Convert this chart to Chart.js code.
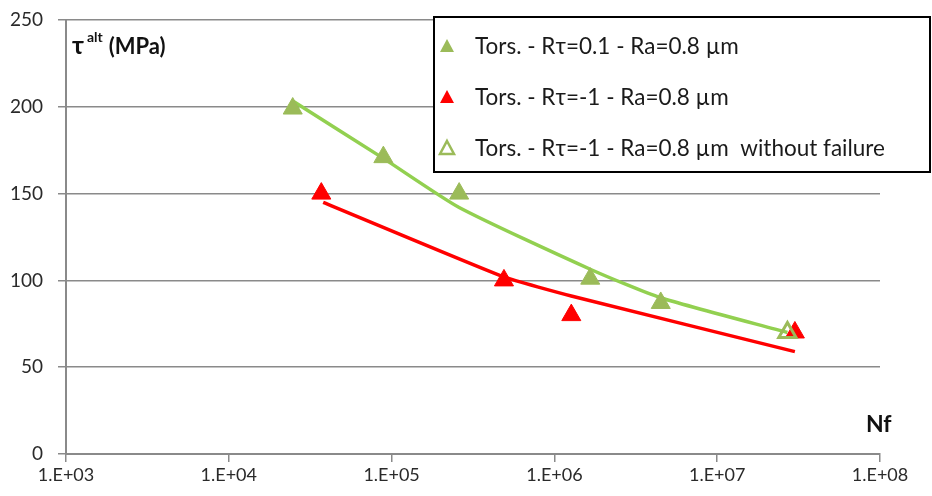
<!DOCTYPE html>
<html>
<head>
<meta charset="utf-8">
<script src="https://cdn.jsdelivr.net/npm/chart.js@4"></script>
<style>
  html, body { margin: 0; padding: 0; background: #fff; }
  #wrap { position: relative; width: 932px; height: 496px; }
</style>
</head>
<body>
<div id="wrap"><canvas id="c" width="932" height="496"></canvas></div>
<script>
// S-N torsion data (Nf, tau_alt MPa)
var greenPtsX = [2.47e4, 8.9e4, 2.6e5, 1.66e6, 4.5e6];
var greenPtsY = [199, 171, 150, 101, 87];
var redPtsX = [3.7e4, 4.9e5, 1.27e6, 3.0e7];
var redPtsY = [150, 100, 80, 70];
var openPtsX = [2.7e7];
var openPtsY = [70];

// fitted curves
var greenFitX = [2.5e4, 9e4, 2.6e5, 1.7e6, 4.5e6, 2.7e7];
var greenFitY = [203, 170, 142, 106, 90, 70];
var redFitX = [3.8e4, 4.9e5, 1.27e6, 3.0e7];
var redFitY = [145, 102, 91, 59];

var xTicks = [1e3, 1e4, 1e5, 1e6, 1e7, 1e8];
var xTickLabels = ['1.E+03', '1.E+04', '1.E+05', '1.E+06', '1.E+07', '1.E+08'];
var yTicks = [0, 50, 100, 150, 200, 250];

var legendLabels = [
  'Tors. - R\u03c4=0.1 - Ra=0.8 \u00b5m',
  'Tors. - R\u03c4=-1 - Ra=0.8 \u00b5m',
  'Tors. - R\u03c4=-1 - Ra=0.8 \u00b5m  without failure'
];

var GREEN_LINE = '#92d050';
var GREEN_MARK = '#9bbb59';
var RED = '#ff0000';
var FONT = 'Lato, "Open Sans", "Noto Sans", sans-serif';

function pts(xs, ys) {
  var out = [];
  for (var i = 0; i < xs.length; i++) out.push({ x: xs[i], y: ys[i] });
  return out;
}

// legend box + axis titles
var decorPlugin = {
  id: 'decor',
  afterDraw: function (chart) {
    var ctx = chart.ctx;
    ctx.save();
    // axis titles
    ctx.fillStyle = '#111';
    ctx.textBaseline = 'alphabetic';
    var x = 72;
    ctx.font = 'bold 25px ' + FONT;
    ctx.fillText('\u03c4', x, 54);
    x += ctx.measureText('\u03c4').width + 3;
    ctx.font = 'bold 14px ' + FONT;
    ctx.fillText('alt', x, 42);
    x += ctx.measureText('alt').width + 6;
    ctx.font = 'bold 22px ' + FONT;
    ctx.fillText('(MPa)', x, 54);
    ctx.font = 'bold 23px ' + FONT;
    ctx.fillText('Nf', 866, 432);

    // legend
    var bx = 434, by = 17, bw = 496, bh = 155;
    ctx.fillStyle = '#fff';
    ctx.fillRect(bx, by, bw, bh);
    ctx.strokeStyle = '#000';
    ctx.lineWidth = 2;
    ctx.strokeRect(bx, by, bw, bh);
    var rows = [46, 97, 148];
    var styles = [
      { fill: GREEN_MARK, stroke: GREEN_MARK, open: false },
      { fill: RED, stroke: RED, open: false },
      { fill: '#fff', stroke: GREEN_MARK, open: true }
    ];
    for (var i = 0; i < rows.length; i++) {
      var cx = 447, cy = rows[i];
      ctx.beginPath();
      ctx.moveTo(cx, cy - 7);
      ctx.lineTo(cx + 7, cy + 6);
      ctx.lineTo(cx - 7, cy + 6);
      ctx.closePath();
      ctx.fillStyle = styles[i].fill;
      ctx.fill();
      if (styles[i].open) {
        ctx.strokeStyle = styles[i].stroke;
        ctx.lineWidth = 2.5;
        ctx.stroke();
      }
      ctx.fillStyle = '#1a1a1a';
      ctx.font = '22.5px ' + FONT;
      ctx.textBaseline = 'middle';
      ctx.fillText(legendLabels[i], 475, cy + 1);
    }
    ctx.restore();
  }
};

new Chart(document.getElementById('c'), {
  type: 'line',
  data: {
    datasets: [
      {
        label: 'fit green',
        data: pts(greenFitX, greenFitY),
        borderColor: GREEN_LINE,
        borderWidth: 3.5,
        pointRadius: 0,
        tension: 0.2,
        order: 5
      },
      {
        label: 'fit red',
        data: pts(redFitX, redFitY),
        borderColor: RED,
        borderWidth: 3.5,
        pointRadius: 0,
        tension: 0.15,
        order: 4
      },
      {
        label: legendLabels[1],
        data: pts(redPtsX, redPtsY),
        showLine: false,
        pointStyle: 'triangle',
        pointRadius: 11,
        backgroundColor: RED,
        borderColor: RED,
        borderWidth: 1,
        order: 3
      },
      {
        label: legendLabels[0],
        data: pts(greenPtsX, greenPtsY),
        showLine: false,
        pointStyle: 'triangle',
        pointRadius: 11,
        backgroundColor: GREEN_MARK,
        borderColor: GREEN_MARK,
        borderWidth: 1,
        order: 2
      },
      {
        label: legendLabels[2],
        data: pts(openPtsX, openPtsY),
        showLine: false,
        pointStyle: 'triangle',
        pointRadius: 10,
        backgroundColor: 'rgba(255,255,255,0)',
        borderColor: GREEN_MARK,
        borderWidth: 3,
        order: 1
      }
    ]
  },
  options: {
    animation: false,
    responsive: false,
    parsing: false,
    layout: { padding: { top: 20, right: 52, left: 0, bottom: 0 } },
    scales: {
      x: {
        type: 'logarithmic',
        min: 1e3,
        max: 1e8,
        afterBuildTicks: function (s) {
          s.ticks = xTicks.map(function (v) { return { value: v }; });
        },
        afterFit: function (s) { s.height = 42; s.paddingLeft = 0; s.paddingRight = 0; },
        ticks: {
          autoSkip: false,
          maxRotation: 0,
          color: '#2a2a2a',
          font: { family: FONT, size: 18 },
          padding: 2,
          callback: function (v) {
            var i = xTicks.indexOf(v);
            return i >= 0 ? xTickLabels[i] : '';
          }
        },
        grid: { drawOnChartArea: false, drawTicks: true, tickLength: 8, color: '#8a8a8a', lineWidth: 1.5 },
        border: { color: '#8a8a8a', width: 2 }
      },
      y: {
        min: 0,
        max: 250,
        afterBuildTicks: function (s) {
          s.ticks = yTicks.map(function (v) { return { value: v }; });
        },
        afterFit: function (s) { s.width = 66; s.paddingTop = 0; s.paddingBottom = 0; },
        ticks: {
          color: '#2a2a2a',
          font: { family: FONT, size: 19 },
          padding: 15
        },
        grid: { color: '#8a8a8a', lineWidth: 1.5, tickLength: 8 },
        border: { color: '#8a8a8a', width: 2 }
      }
    },
    plugins: {
      legend: { display: false },
      tooltip: { enabled: false }
    }
  },
  plugins: [decorPlugin]
});
</script>
</body>
</html>
